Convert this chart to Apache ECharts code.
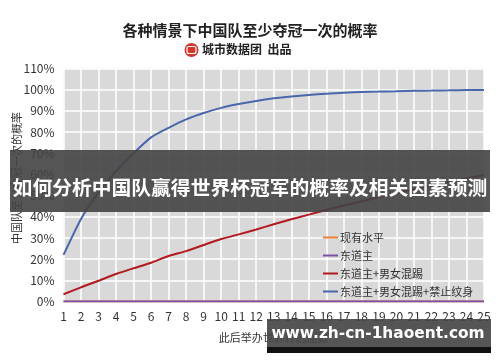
<!DOCTYPE html>
<html>
<head>
<meta charset="utf-8">
<script src="https://cdn.jsdelivr.net/npm/echarts@6/dist/echarts.min.js"></script>
<style>
  html, body { margin: 0; padding: 0; background: #fff; }
  #chart { width: 500px; height: 362px; }
</style>
</head>
<body>
<div id="chart"></div>
<script>
// Number of World Cups hosted from now on
const editions = ['1','2','3','4','5','6','7','8','9','10','11','12','13','14','15','16','17','18','19','20','21','22','23','24','25'];

// Probability (%) that China wins at least one title, per scenario
const currentLevel = [0,0,0,0,0,0,0,0,0,0,0,0,0,0,0,0,0,0,0,0,0,0,0,0,0];
const hostOnly     = [0,0,0,0,0,0,0,0,0,0,0,0,0,0,0,0,0,0,0,0,0,0,0,0,0];
const hostMixed    = [3.4,6.7,9.8,13,15.7,18.3,21.5,23.8,26.7,29.5,31.7,34,36.5,38.8,41,43.2,45.3,47.3,49.3,51.2,53,54.8,56.5,58.1,59.7];
const hostMixedNoTattoo = [22,39,51.5,61.5,70,77.5,82,86,89,91.4,93.2,94.7,95.9,96.8,97.5,98.1,98.6,98.9,99.1,99.3,99.5,99.6,99.7,99.8,99.8];

const yTicks = { min: 0, max: 110, interval: 10 };

const seriesNames = ['现有水平', '东道主', '东道主+男女混踢', '东道主+男女混踢+禁止纹身'];
const seriesColors = ['#ED7D31', '#7B4FA8', '#B3191F', '#4A67AE'];

const chart = echarts.init(document.getElementById('chart'), null, { renderer: 'canvas' });

const font = '"Noto Sans CJK SC", "Noto Sans", sans-serif';

function lineSeries(i, data, z) {
  return {
    name: seriesNames[i],
    type: 'line',
    data: data,
    symbol: 'none',
    smooth: 0.2,
    z: z,
    lineStyle: { color: seriesColors[i], width: 2 },
    itemStyle: { color: seriesColors[i] }
  };
}

chart.setOption({
  animation: false,
  backgroundColor: '#ffffff',
  textStyle: { fontFamily: font },
  grid: {
    left: 63.5, right: 16, top: 68.5, bottom: 60.5,
    show: true, backgroundColor: '#d9d9d9', borderWidth: 0
  },
  xAxis: {
    type: 'category',
    data: editions,
    boundaryGap: false,
    axisLine: { show: false },
    axisTick: { show: false },
    axisLabel: { color: '#333', fontSize: 12, margin: 9, fontFamily: font },
    splitLine: { show: true, lineStyle: { color: '#ffffff', width: 1.5 } },
    name: '此后举办世界杯的届数',
    nameLocation: 'middle',
    nameGap: 31,
    nameTextStyle: { color: '#333', fontSize: 11, fontFamily: font }
  },
  yAxis: {
    type: 'value',
    min: yTicks.min, max: yTicks.max, interval: yTicks.interval,
    axisLine: { show: false },
    axisTick: { show: false },
    axisLabel: { color: '#333', fontSize: 12, margin: 9, formatter: '{value}%', fontFamily: font },
    splitLine: { show: true, lineStyle: { color: '#ffffff', width: 1.5 } }
  },
  legend: {
    orient: 'vertical',
    left: 323, top: 230,
    padding: 0,
    icon: 'rect',
    itemWidth: 15, itemHeight: 2,
    itemGap: 3,
    textStyle: { color: '#333', fontSize: 11, lineHeight: 15, padding: [0, 0, 0, -3], fontFamily: font },
    data: seriesNames
  },
  series: [
    lineSeries(0, currentLevel, 2),
    lineSeries(1, hostOnly, 3),
    lineSeries(2, hostMixed, 4),
    lineSeries(3, hostMixedNoTattoo, 5)
  ],
  graphic: [
    {
      type: 'text', left: 'center', top: 23, z: 10,
      style: { text: '各种情景下中国队至少夺冠一次的概率', fill: '#222', font: 'bold 15px ' + font }
    },
    {
      type: 'circle', shape: { cx: 191.5, cy: 50, r: 7 }, z: 10,
      style: { fill: '#D2372C' }
    },
    {
      type: 'rect', shape: { x: 187, y: 46.5, width: 9, height: 7, r: 2 }, z: 11,
      style: { fill: 'none', stroke: '#fff', lineWidth: 1.2 }
    },
    {
      type: 'text', x: 202, y: 43, z: 10,
      style: { text: '城市数据团  出品', fill: '#222', font: 'bold 12px ' + font }
    },
    {
      type: 'text', x: 17, y: 178, rotation: Math.PI / 2, z: 10,
      style: { text: '中国队至少夺冠一次的概率', fill: '#333', font: '11px ' + font, align: 'center', verticalAlign: 'middle' }
    },
    {
      type: 'rect', shape: { x: 10, y: 150, width: 480, height: 62 }, z: 20,
      style: { fill: 'rgba(66,66,66,0.9)' }
    },
    {
      type: 'text', x: 250, y: 187, z: 21,
      style: { text: '如何分析中国队赢得世界杯冠军的概率及相关因素预测', fill: '#ffffff', font: 'bold 19.8px ' + font, align: 'center', verticalAlign: 'middle' }
    },
    {
      type: 'rect', shape: { x: 267, y: 319, width: 224, height: 28 }, z: 20,
      style: { fill: 'rgba(70,70,70,0.92)' }
    },
    {
      type: 'rect', shape: { x: 267, y: 347, width: 224, height: 6 }, z: 20,
      style: { fill: '#111' }
    },
    {
      type: 'text', x: 378, y: 334, z: 21,
      style: { text: 'www.zh-cn-1haoent.com', fill: '#ffffff', font: 'bold 15.4px "DejaVu Sans", sans-serif', align: 'center', verticalAlign: 'middle' }
    }
  ]
});
</script>
</body>
</html>
